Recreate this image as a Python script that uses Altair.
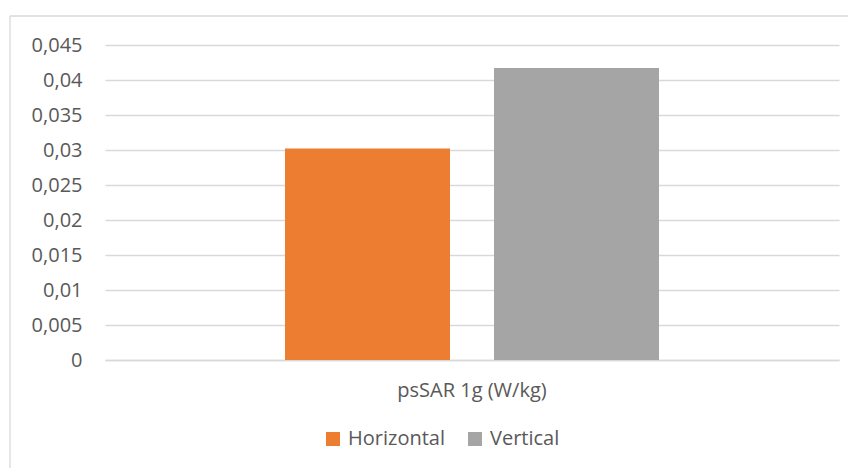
import altair as alt
import pandas as pd

categories = ["psSAR 1g (W/kg)"]
series = ["Horizontal", "Vertical"]
values = [0.0302, 0.0417]
colors = ["#ED7D31", "#A5A5A5"]
y_ticks = [0, 0.005, 0.01, 0.015, 0.02, 0.025, 0.03, 0.035, 0.04, 0.045]

df = pd.DataFrame({
    "category": [categories[0]] * len(series),
    "series": series,
    "value": values,
})

FONT = "Open Sans"
TXT = "#595959"
GRID = "#D9D9D9"

bars = alt.Chart(df).mark_bar().encode(
    x=alt.X("category:N",
            scale=alt.Scale(paddingOuter=0.4813, paddingInner=0),
            axis=alt.Axis(title=None, labelAngle=0, ticks=False, domain=True,
                          domainColor=GRID, domainWidth=1.3, labelPadding=20,
                          grid=False,
                          labelFontSize=20, labelColor=TXT, labelFont=FONT)),
    xOffset=alt.XOffset("series:N", sort=series,
                        scale=alt.Scale(paddingInner=0.2105, paddingOuter=0)),
    y=alt.Y("value:Q",
            scale=alt.Scale(domain=[0, 0.045], nice=False),
            axis=alt.Axis(title=None, values=y_ticks, domain=False, ticks=False,
                          grid=True, gridColor=GRID, gridWidth=1.3,
                          labelPadding=23, labelFontSize=20, labelColor=TXT,
                          labelFont=FONT,
                          labelExpr="replace(format(datum.value, '~g'), '.', ',')")),
    color=alt.Color("series:N",
                    scale=alt.Scale(domain=series, range=colors),
                    legend=alt.Legend(title=None, orient="none", direction="horizontal",
                                      legendX=218, legendY=384, symbolType="square",
                                      symbolSize=196, symbolStrokeWidth=0,
                                      labelFontSize=20, labelColor=TXT, labelFont=FONT,
                                      labelOffset=5, columnPadding=20, padding=0)),
)

frame_df = pd.DataFrame({"k": [0]})
frame_top = alt.Chart(frame_df).mark_rule(color=GRID, strokeWidth=1.3).encode(
    x=alt.value(-95), x2=alt.value(760), y=alt.value(-29))
frame_left = alt.Chart(frame_df).mark_rule(color=GRID, strokeWidth=1.3).encode(
    x=alt.value(-95), y=alt.value(-29), y2=alt.value(460))

chart = alt.layer(frame_top, frame_left, bars).properties(
    width=734, height=315,
    padding={"left": 97, "top": 37, "right": 9, "bottom": 108},
    autosize=alt.AutoSizeParams(type="none"),
).configure(font=FONT).configure_view(stroke=None)

chart.save("out.html", embed_options={"renderer": "svg", "actions": False})
